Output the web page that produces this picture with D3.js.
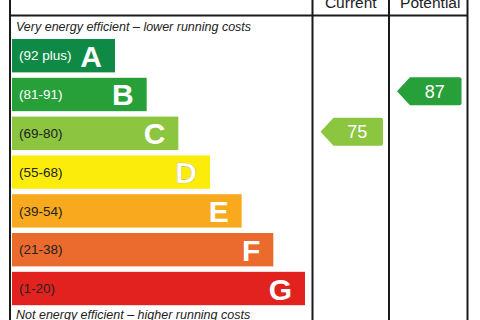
<!DOCTYPE html>
<html>
<head>
<meta charset="utf-8">
<script src="https://cdn.jsdelivr.net/npm/d3@7"></script>
<style>
  body { margin: 0; background: #fff; }
  svg { display: block; font-family: "Liberation Sans", Arial, sans-serif; }
</style>
</head>
<body>
<div id="chart"></div>
<script>
// EPC rating data
var ratings = ["A", "B", "C", "D", "E", "F", "G"];
var rangeLabels = ["(92 plus)", "(81-91)", "(69-80)", "(55-68)", "(39-54)", "(21-38)", "(1-20)"];
var bandMin = [92, 81, 69, 55, 39, 21, 1];
var bandMax = [100, 91, 80, 68, 54, 38, 20];
var bandColors = ["#0f8a46", "#27a039", "#8cc540", "#fcec0c", "#f9a91e", "#eb6a2d", "#e1221f"];
var columns = ["Current", "Potential"];
var scores = [75, 87];

var svgWidth = 480;
var svgHeight = 320;

var svg = d3.select("#chart")
    .append("svg")
    .attr("width", svgWidth)
    .attr("height", svgHeight);

// frame positions
var frameLeft = 10, headerY = 15.5;
var colEdges = [312.5, 389, 467.5];

// scales
var yBand = d3.scaleBand()
    .domain(ratings)
    .range([39, 305.2])
    .paddingInner(0.14)
    .paddingOuter(0);

var barEnd = d3.scaleLinear()
    .domain([0, ratings.length - 1])
    .range([115, 305]);

var barStart = 12;

// bars
var bars = svg.selectAll(".bar")
    .data(ratings)
    .enter()
    .append("g")
    .attr("class", "bar");

bars.append("rect")
    .attr("x", barStart)
    .attr("y", d => yBand(d))
    .attr("width", (d, i) => barEnd(i) - barStart)
    .attr("height", yBand.bandwidth())
    .attr("fill", (d, i) => bandColors[i]);

bars.append("text")
    .attr("x", 19)
    .attr("y", d => yBand(d) + yBand.bandwidth() / 2)
    .attr("dy", "0.35em")
    .attr("font-size", "13.5px")
    .attr("fill", (d, i) => i < 2 ? "#fff" : "#222")
    .text((d, i) => rangeLabels[i]);

bars.append("text")
    .attr("x", (d, i) => barEnd(i) - 13)
    .attr("y", d => yBand(d) + yBand.bandwidth() / 2 + 11)
    .attr("text-anchor", "end")
    .attr("font-size", "30px")
    .attr("font-weight", "bold")
    .attr("fill", "#fff")
    .attr("stroke", (d, i) => i === 3 ? "rgba(0,0,0,0.2)" : "none")
    .attr("stroke-width", 0.7)
    .text(d => d);

// captions
svg.append("text")
    .attr("x", 16)
    .attr("y", 31)
    .attr("font-size", "12.5px")
    .attr("font-style", "italic")
    .attr("fill", "#222")
    .text("Very energy efficient \u2013 lower running costs");

svg.append("text")
    .attr("x", 16)
    .attr("y", 318.5)
    .attr("font-size", "12.5px")
    .attr("font-style", "italic")
    .attr("fill", "#222")
    .text("Not energy efficient \u2013 higher running costs");

// frame lines
var lineColor = "#1a1a1a";
svg.append("line")
    .attr("x1", frameLeft).attr("x2", colEdges[2])
    .attr("y1", headerY).attr("y2", headerY)
    .attr("stroke", lineColor).attr("stroke-width", 2);

[frameLeft].concat(colEdges).forEach(function (x) {
    svg.append("line")
        .attr("x1", x).attr("x2", x)
        .attr("y1", 0).attr("y2", svgHeight)
        .attr("stroke", lineColor).attr("stroke-width", 2);
});

// column headers
svg.selectAll(".colhead")
    .data(columns)
    .enter()
    .append("text")
    .attr("class", "colhead")
    .attr("x", (d, i) => (colEdges[i] + colEdges[i + 1]) / 2 + i * 2)
    .attr("y", 7.5)
    .attr("text-anchor", "middle")
    .attr("font-size", "15.5px")
    .attr("fill", "#222")
    .text(d => d);

// score arrows
function bandIndex(score) {
    return bandMin.findIndex((m, i) => score >= m && score <= bandMax[i]);
}

function arrowY(score) {
    var i = bandIndex(score);
    var y = d3.scaleLinear()
        .domain([bandMin[i], bandMax[i]])
        .range([yBand(ratings[i]) + yBand.bandwidth(), yBand(ratings[i])]);
    return y(score);
}

var arrowH = 28, notch = 13, r = 2;

scores.forEach(function (score, ci) {
    var x0 = colEdges[ci] + 8;
    var x1 = colEdges[ci + 1] - 6;
    var cy = arrowY(score);
    var y0 = cy - arrowH / 2, y1 = cy + arrowH / 2;
    var p = d3.path();
    p.moveTo(x0, cy);
    p.lineTo(x0 + notch, y0);
    p.lineTo(x1 - r, y0);
    p.quadraticCurveTo(x1, y0, x1, y0 + r);
    p.lineTo(x1, y1 - r);
    p.quadraticCurveTo(x1, y1, x1 - r, y1);
    p.lineTo(x0 + notch, y1);
    p.closePath();

    svg.append("path")
        .attr("d", p.toString())
        .attr("fill", bandColors[bandIndex(score)]);

    svg.append("text")
        .attr("x", (x0 + notch + x1) / 2 - 1)
        .attr("y", cy)
        .attr("dy", "0.36em")
        .attr("text-anchor", "middle")
        .attr("font-size", "18px")
        .attr("fill", "#fff")
        .text(score);
});
</script>
</body>
</html>
